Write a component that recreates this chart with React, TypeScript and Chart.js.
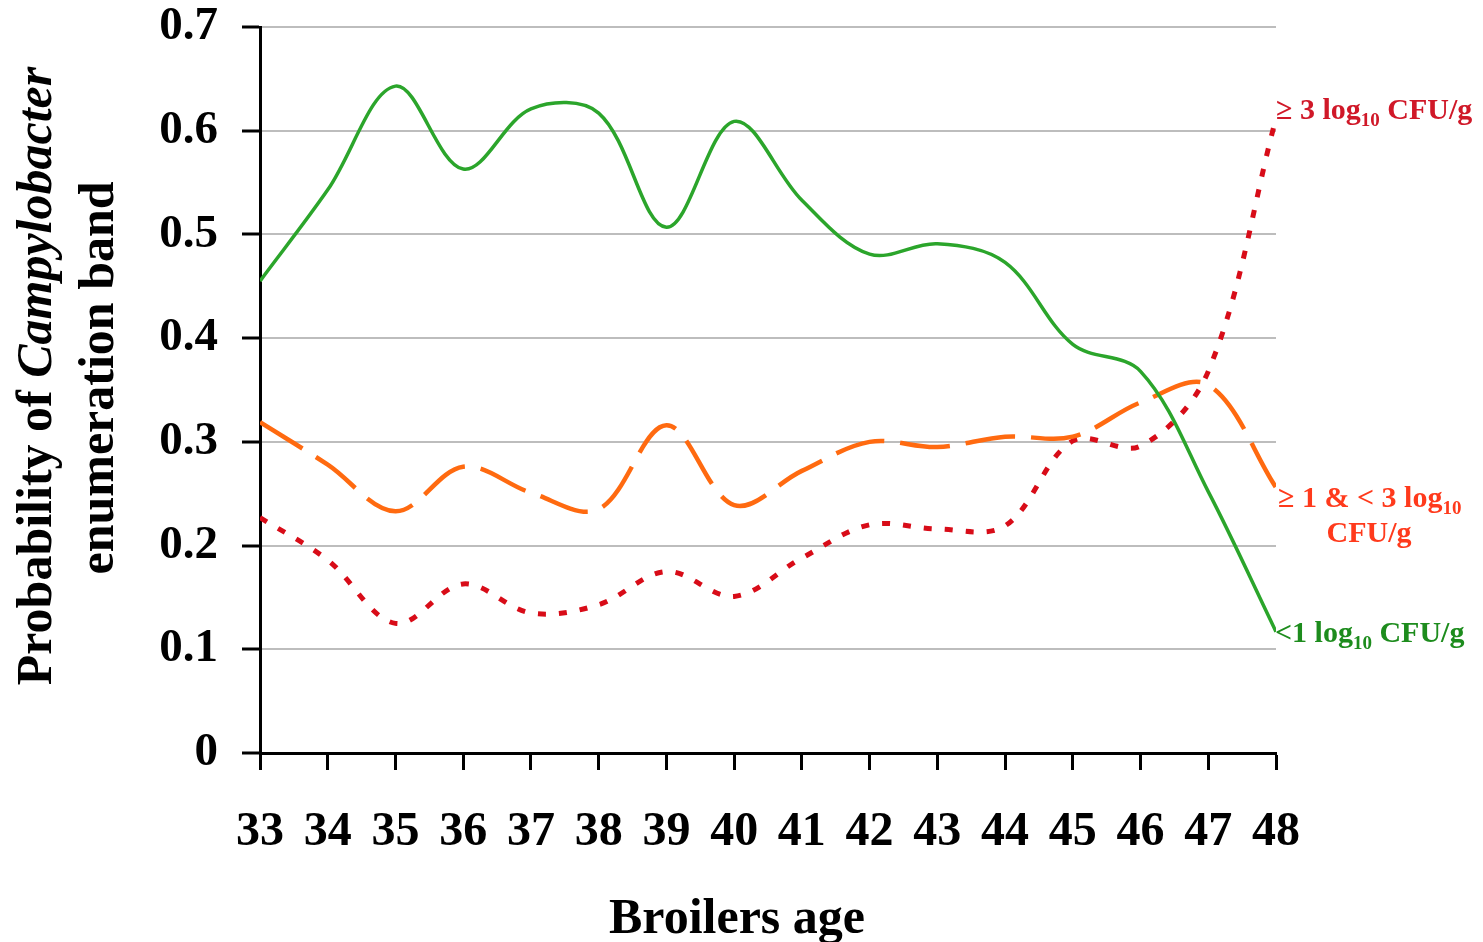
import React, { useEffect, useRef } from "react";
import { Chart, registerables } from "chart.js";

Chart.register(...registerables);

// Broiler age in days
const ages = [33, 34, 35, 36, 37, 38, 39, 40, 41, 42, 43, 44, 45, 46, 47, 48];
// Probability of each Campylobacter enumeration band per age
const below1Log = [0.455, 0.543, 0.643, 0.563, 0.621, 0.617, 0.507, 0.609, 0.533, 0.481, 0.491, 0.473, 0.394, 0.368, 0.252, 0.117];
const from1To3Log = [0.319, 0.278, 0.233, 0.276, 0.251, 0.235, 0.316, 0.239, 0.272, 0.3, 0.295, 0.305, 0.305, 0.338, 0.355, 0.256];
const atLeast3Log = [0.227, 0.186, 0.125, 0.163, 0.135, 0.143, 0.175, 0.151, 0.188, 0.22, 0.216, 0.219, 0.301, 0.296, 0.368, 0.612];
const yTickValues = [0, 0.1, 0.2, 0.3, 0.4, 0.5, 0.6, 0.7];

const SERIF = "'Liberation Serif', 'Times New Roman', serif";

const GREEN_LINE = "#2ba52b";
const GREEN_TEXT = "#1d8c1d";
const ORANGE_LINE = "#ff6a10";
const ORANGE_TEXT = "#ff3a1c";
const RED_LINE = "#d80c18";
const RED_TEXT = "#d01828";

type Part = { text: string; sub?: boolean };

function drawRich(ctx: CanvasRenderingContext2D, parts: Part[], x: number, y: number, size: number, color: string) {
  ctx.fillStyle = color;
  ctx.textAlign = "left";
  ctx.textBaseline = "alphabetic";
  let cx = x;
  for (const p of parts) {
    const s = p.sub ? Math.round(size * 0.62) : size;
    ctx.font = `bold ${s}px ${SERIF}`;
    ctx.fillText(p.text, cx, p.sub ? y + size * 0.22 : y);
    cx += ctx.measureText(p.text).width;
  }
}

const textPlugin = {
  id: "bandTexts",
  afterDraw(chart: Chart) {
    const ctx = chart.ctx;
    ctx.save();

    // x-axis title
    ctx.fillStyle = "#000";
    ctx.font = `bold 50px ${SERIF}`;
    ctx.textAlign = "center";
    ctx.textBaseline = "alphabetic";
    ctx.fillText("Broilers age", 737, 933);

    // y-axis title, two rotated lines
    ctx.save();
    ctx.translate(51, 376);
    ctx.rotate(-Math.PI / 2);
    ctx.textAlign = "left";
    const a = "Probability of ";
    const b = "Campylobacter";
    ctx.font = `bold 50px ${SERIF}`;
    const wa = ctx.measureText(a).width;
    ctx.font = `italic bold 50px ${SERIF}`;
    const wb = ctx.measureText(b).width;
    const start = -(wa + wb) / 2;
    ctx.font = `bold 50px ${SERIF}`;
    ctx.fillText(a, start, 0);
    ctx.font = `italic bold 50px ${SERIF}`;
    ctx.fillText(b, start + wa, 0);
    ctx.restore();

    ctx.save();
    ctx.translate(113, 378);
    ctx.rotate(-Math.PI / 2);
    ctx.font = `bold 50px ${SERIF}`;
    ctx.textAlign = "center";
    ctx.fillText("enumeration band", 0, 0);
    ctx.restore();

    // series labels at the right end
    drawRich(ctx, [{ text: "\u2265 3 log" }, { text: "10", sub: true }, { text: " CFU/g" }], 1276, 119, 30, RED_TEXT);
    drawRich(ctx, [{ text: "\u2265 1 & < 3 log" }, { text: "10", sub: true }], 1278, 507, 30, ORANGE_TEXT);
    ctx.font = `bold 30px ${SERIF}`;
    ctx.textAlign = "center";
    ctx.fillStyle = ORANGE_TEXT;
    ctx.fillText("CFU/g", 1369, 542);
    drawRich(ctx, [{ text: "<1 log" }, { text: "10", sub: true }, { text: " CFU/g" }], 1275, 642, 30, GREEN_TEXT);

    ctx.restore();
  },
};

export default function App() {
  const canvasRef = useRef<HTMLCanvasElement | null>(null);

  useEffect(() => {
    if (!canvasRef.current) return;
    const pts = (vals: number[]) => ages.map((x, i) => ({ x, y: vals[i] }));

    const chart = new Chart(canvasRef.current, {
      type: "line",
      data: {
        datasets: [
          {
            label: "<1 log10 CFU/g",
            data: pts(below1Log),
            borderColor: GREEN_LINE,
            borderWidth: 3.5,
            pointRadius: 0,
            tension: 0.35,
            fill: false,
          },
          {
            label: "≥1 & <3 log10 CFU/g",
            data: pts(from1To3Log),
            borderColor: ORANGE_LINE,
            borderWidth: 4.5,
            borderDash: [50, 16],
            pointRadius: 0,
            tension: 0.35,
            fill: false,
          },
          {
            label: "≥3 log10 CFU/g",
            data: pts(atLeast3Log),
            borderColor: RED_LINE,
            borderWidth: 5,
            borderDash: [8, 13],
            pointRadius: 0,
            tension: 0.35,
            fill: false,
          },
        ],
      },
      options: {
        animation: false,
        responsive: true,
        maintainAspectRatio: false,
        layout: { padding: { top: 27, right: 207, left: 0, bottom: 0 } },
        plugins: {
          legend: { display: false },
          tooltip: { enabled: false },
          title: { display: false },
        },
        scales: {
          x: {
            type: "linear",
            min: ages[0],
            max: ages[ages.length - 1],
            afterBuildTicks: (scale: any) => {
              scale.ticks = ages.map((v) => ({ value: v }));
            },
            afterFit: (scale: any) => {
              scale.height = 189;
              scale.paddingLeft = 0;
              scale.paddingRight = 0;
            },
            ticks: {
              color: "#000",
              padding: 39,
              maxRotation: 0,
              autoSkip: false,
              font: { family: SERIF, size: 48, weight: "bold", lineHeight: 1 },
            },
            grid: {
              drawOnChartArea: false,
              drawTicks: true,
              tickLength: 17,
              tickColor: "#000",
              tickWidth: 3,
            },
            border: { display: true, color: "#000", width: 3 },
          },
          y: {
            min: 0,
            max: 0.7,
            afterBuildTicks: (scale: any) => {
              scale.ticks = yTickValues.map((v) => ({ value: v }));
            },
            afterFit: (scale: any) => {
              scale.width = 260;
              scale.paddingTop = 0;
              scale.paddingBottom = 0;
            },
            ticks: {
              color: "#000",
              padding: 24,
              callback: (v: any) => (Number(v) === 0 ? "0" : Number(v).toFixed(1)),
              font: { family: SERIF, size: 47, weight: "bold", lineHeight: 1 },
            },
            grid: {
              color: "#bdbdbd",
              lineWidth: 2,
              drawTicks: true,
              tickLength: 18,
              tickColor: "#000",
              tickWidth: 3,
            },
            border: { display: true, color: "#000", width: 3 },
          },
        },
      },
      plugins: [textPlugin],
    });

    return () => chart.destroy();
  }, []);

  return (
    <div style={{ position: "absolute", left: 0, top: 0, width: 1483, height: 942, background: "#fff" }}>
      <canvas ref={canvasRef} />
    </div>
  );
}
